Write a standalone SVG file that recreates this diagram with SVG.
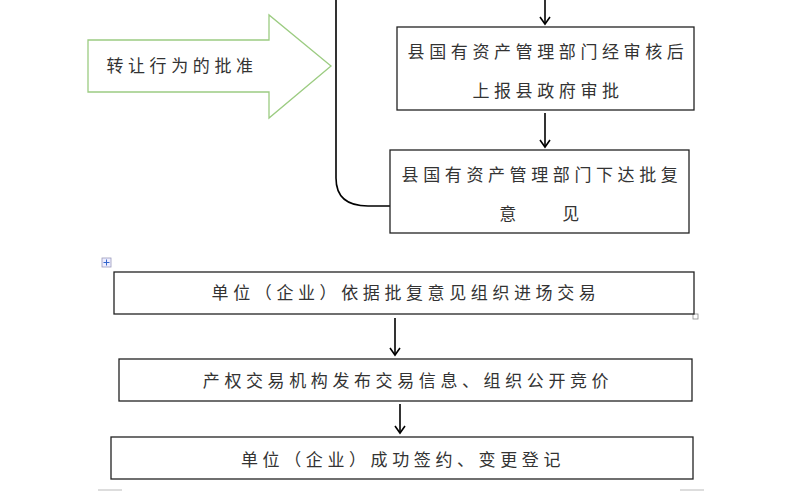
<svg xmlns="http://www.w3.org/2000/svg" width="800" height="492" viewBox="0 0 800 492">
<style>
.b{fill:#fff;stroke:#222;stroke-width:1.3}
.t{font-family:"Noto Sans CJK SC",sans-serif;font-size:17px;fill:#333;letter-spacing:4.6px;text-anchor:middle}
.c{stroke:#000;stroke-width:1.6;fill:none}
</style>
<defs><marker id="a" markerWidth="12" markerHeight="12" refX="10" refY="6" orient="auto" markerUnits="userSpaceOnUse"><path d="M3,1 L10,6 L3,11" fill="none" stroke="#000" stroke-width="1.6"/></marker></defs>
<rect width="800" height="492" fill="#fff"/>
<g id="connectors">
<path class="c" d="M336,0 V178 Q336,206 368,206 H390"/>
<line class="c" x1="545" y1="0" x2="545" y2="24" marker-end="url(#a)"/>
<line class="c" x1="545" y1="113" x2="545" y2="147" marker-end="url(#a)"/>
<line class="c" x1="395" y1="318" x2="395" y2="355" marker-end="url(#a)"/>
<line class="c" x1="400" y1="404" x2="400" y2="433" marker-end="url(#a)"/>
</g>
<g id="approval"><path d="M88,40 H269 V15 L331,66 L269,118 V92 H88 Z" fill="#fff" stroke="#9ccc82" stroke-width="1.3"/><text class="t" x="182" y="72">转让行为的批准</text></g>
<g id="n1"><rect class="b" x="397" y="27" width="297" height="83"/><text class="t" x="548" y="58">县国有资产管理部门经审核后</text><text class="t" x="548" y="97">上报县政府审批</text></g>
<g id="n2"><rect class="b" x="390" y="150" width="299" height="83"/><text class="t" x="542" y="181">县国有资产管理部门下达批复</text><text class="t" x="510" y="220">意</text><text class="t" x="573" y="220">见</text></g>
<g id="handles"><rect x="102" y="258" width="9" height="9" fill="#eef" stroke="#99b" stroke-width="0.8"/><path d="M106.5,259.5 V265.5 M103.5,262.5 H109.5" stroke="#36c" stroke-width="1"/><rect x="693" y="314" width="5" height="5" fill="#fff" stroke="#888" stroke-width="0.8"/></g>
<g id="n3"><rect class="b" x="114" y="272" width="580" height="42"/><text class="t" x="406" y="299">单位（企业）依据批复意见组织进场交易</text></g>
<g id="n4"><rect class="b" x="119" y="359" width="573" height="42"/><text class="t" x="408" y="387">产权交易机构发布交易信息、组织公开竞价</text></g>
<g id="n5"><rect class="b" x="111" y="437" width="582" height="42"/><text class="t" x="403" y="466">单位（企业）成功签约、变更登记</text></g>
<line x1="98" y1="490" x2="122" y2="490" stroke="#bbb"/><line x1="680" y1="490" x2="704" y2="490" stroke="#bbb"/>
</svg>
